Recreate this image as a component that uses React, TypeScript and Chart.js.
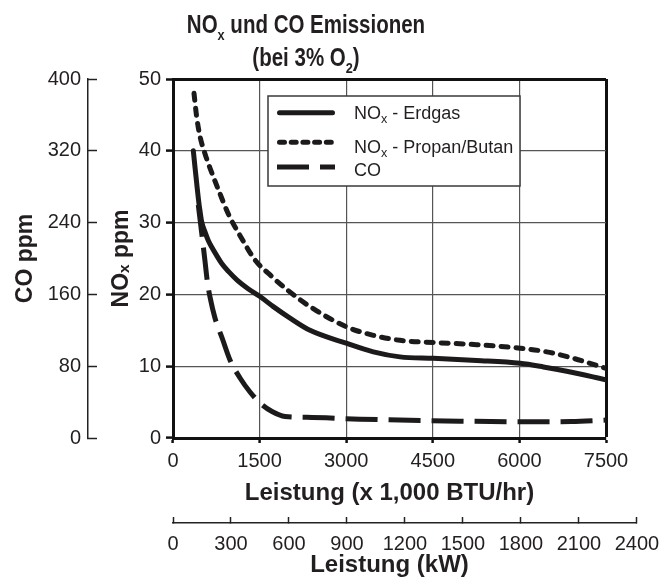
import React, { useEffect, useRef } from 'react';
import { Chart, registerables } from 'chart.js';

Chart.register(...registerables);

// ---- text ----
const TITLE_LINES = ['NOₓ und CO Emissionen', '(bei 3% O₂)'];
const X_TITLE = 'Leistung (x 1,000 BTU/hr)';
const X2_TITLE = 'Leistung (kW)';
const Y_TITLE = 'NOₓ ppm';
const Y2_TITLE = 'CO ppm';
const SERIES_LABELS = ['NOₓ - Erdgas', 'NOₓ - Propan/Butan', 'CO'];

// ---- ticks ----
const X_TICKS = [0, 1500, 3000, 4500, 6000, 7500];
const X2_TICKS = [0, 300, 600, 900, 1200, 1500, 1800, 2100, 2400];
const Y_TICKS = [0, 10, 20, 30, 40, 50];
const Y2_TICKS = [0, 80, 160, 240, 320, 400];
// kW value that the drawing shows under the right edge (7500) of the plot
const KW_AT_X_MAX = 2240;

// ---- series (x in 1,000 BTU/hr) ----
const ERDGAS_X = [352, 381, 410, 440, 468, 497, 554, 611, 670, 750, 844, 960, 1110, 1300, 1507, 1738, 2027, 2373, 3000, 3470, 3932, 4509, 5260, 6011, 6415, 6819, 7500];
const ERDGAS_Y = [40.0, 37.7, 35.5, 33.3, 31.6, 30.1, 28.7, 27.5, 26.6, 25.5, 24.3, 23.2, 22.0, 20.8, 19.7, 18.3, 16.7, 15.0, 13.2, 12.0, 11.3, 11.1, 10.8, 10.4, 9.9, 9.3, 8.1];

const PROPAN_X = [364, 410, 468, 554, 641, 800, 970, 1175, 1420, 1710, 2000, 2373, 3000, 3470, 3932, 4509, 5260, 6011, 6473, 6935, 7500];
const PROPAN_Y = [48.0, 44.7, 42.0, 39.6, 37.6, 34.3, 31.0, 28.0, 24.8, 22.5, 20.5, 18.3, 15.5, 14.3, 13.6, 13.3, 13.0, 12.5, 12.0, 11.1, 9.7];

const CO_X = [438, 497, 554, 598, 641, 727, 857, 987, 1161, 1334, 1507, 1715, 1940, 2316, 3239, 4971, 6126, 6900, 7500];
const CO_Y = [259.6, 228.4, 197.2, 172.7, 157.1, 133.7, 110.3, 86.9, 66.9, 51.3, 39.0, 29.5, 24.0, 23.1, 21.0, 18.8, 18.0, 18.3, 20.0];

const FONT = "'Liberation Sans', Arial, Helvetica, sans-serif";
const INK = '#231f20';

const pts = (xs: number[], ys: number[]) => xs.map((x, i) => ({ x, y: ys[i] }));
const fmt = (v: any) => String(v);

const SUBS: Record<string, string> = { 'ₓ': 'x', '₂': '2' };

type Seg = { t: string; sub: boolean };
function splitRich(text: string): Seg[] {
  const out: Seg[] = [];
  for (const ch of text) {
    const sub = !!SUBS[ch];
    const c = sub ? SUBS[ch] : ch;
    const last = out[out.length - 1];
    if (last && last.sub === sub) last.t += c;
    else out.push({ t: c, sub });
  }
  return out;
}

// draws text with real subscripts; align 'left' | 'center'
function drawRich(
  ctx: CanvasRenderingContext2D, text: string, x: number, y: number, size: number,
  opts: { weight?: string; align?: 'left' | 'center'; baseline?: CanvasTextBaseline; subScale?: number; subDrop?: number } = {}
) {
  const weight = opts.weight || 'normal';
  const subScale = opts.subScale ?? 0.7;
  const subDrop = opts.subDrop ?? 0.32;
  const segs = splitRich(text);
  const fontFor = (s: Seg) => `${weight} ${s.sub ? size * subScale : size}px ${FONT}`;
  let total = 0;
  for (const s of segs) { ctx.font = fontFor(s); total += ctx.measureText(s.t).width; }
  let cx = opts.align === 'center' ? x - total / 2 : x;
  ctx.textAlign = 'left';
  ctx.textBaseline = opts.baseline || 'middle';
  for (const s of segs) {
    ctx.font = fontFor(s);
    ctx.fillText(s.t, cx, s.sub ? y + size * subDrop : y);
    cx += ctx.measureText(s.t).width;
  }
}

const condensedTitle = {
  id: 'condensedTitle',
  afterDraw(chart: any) {
    const { ctx } = chart;
    const cx = 306, baselines = [33, 66];
    ctx.save();
    ctx.fillStyle = INK;
    TITLE_LINES.forEach((line, i) => {
      ctx.save();
      ctx.translate(cx, baselines[i]);
      ctx.scale(0.82, 1);
      drawRich(ctx, line, 0, 0, 25, { weight: 'bold', align: 'center', baseline: 'alphabetic', subScale: 0.62, subDrop: 0.26 });
      ctx.restore();
    });
    ctx.restore();
  },
};

const insideLegend = {
  id: 'insideLegend',
  afterDatasetsDraw(chart: any) {
    const { ctx, chartArea: ca } = chart;
    const bx = ca.left + 95, by = ca.top + 17, bw = 252, bh = 90;
    const rows = [{ line: 16.7, text: 18 }, { line: 46.3, text: 52 }, { line: 71, text: 75 }];
    ctx.save();
    ctx.fillStyle = '#ffffff';
    ctx.fillRect(bx, by, bw, bh);
    ctx.strokeStyle = '#3a3a3a';
    ctx.lineWidth = 1.5;
    ctx.setLineDash([]);
    ctx.strokeRect(bx, by, bw, bh);
    chart.data.datasets.forEach((ds: any, i: number) => {
      const r = rows[i];
      const cap = ds.borderCapStyle || 'butt';
      const inset = cap === 'round' ? ds.borderWidth / 2 : 0;
      ctx.beginPath();
      ctx.setLineDash(ds.legendDash || ds.borderDash || []);
      ctx.lineCap = cap;
      ctx.lineWidth = ds.borderWidth;
      ctx.strokeStyle = ds.borderColor;
      ctx.moveTo(bx + 9 + inset, by + r.line);
      ctx.lineTo(bx + 67 - inset, by + r.line);
      ctx.stroke();
      ctx.setLineDash([]);
      ctx.fillStyle = INK;
      drawRich(ctx, ds.label, bx + 86, by + r.text, 18);
    });
    ctx.restore();
  },
};

const widenKw = {
  id: 'widenKw',
  afterLayout(chart: any) {
    const s = chart.scales.x2;
    const ca = chart.chartArea;
    if (!s) return;
    s.left = ca.left;
    s.right = ca.left + (ca.right - ca.left) * X2_TICKS[X2_TICKS.length - 1] / KW_AT_X_MAX;
    s.width = s.right - s.left;
    s.configure();
  },
};

export default function App() {
  const ref = useRef<HTMLCanvasElement | null>(null);

  useEffect(() => {
    if (!ref.current) return;
    const tickFont = { size: 20, family: FONT };
    const titleFont = { size: 24, weight: 'bold' as const, family: FONT };
    const line = {
      borderColor: '#1c1a1b',
      borderWidth: 5,
      pointRadius: 0,
      fill: false,
      cubicInterpolationMode: 'monotone',
      xAxisID: 'x',
    };
    const chart = new Chart(ref.current, {
      type: 'line',
      data: {
        datasets: [
          { ...line, label: SERIES_LABELS[0], data: pts(ERDGAS_X, ERDGAS_Y), yAxisID: 'y', borderCapStyle: 'round' } as any,
          {
            ...line, label: SERIES_LABELS[1], data: pts(PROPAN_X, PROPAN_Y), yAxisID: 'y',
            borderDash: [7, 8], legendDash: [5, 6.7], borderCapStyle: 'round',
          } as any,
          { ...line, label: SERIES_LABELS[2], data: pts(CO_X, CO_Y), yAxisID: 'y2', borderDash: [32, 11], borderCapStyle: 'butt' } as any,
        ],
      },
      options: {
        responsive: false,
        animation: false,
        events: [],
        layout: { padding: { left: 0, right: 64, top: 79, bottom: 0 } },
        plugins: {
          legend: { display: false },
          tooltip: { enabled: false },
          title: { display: false },
        },
        scales: {
          x: {
            type: 'linear',
            position: 'bottom',
            weight: 0,
            min: 0,
            max: 7500,
            afterBuildTicks: (s: any) => { s.ticks = X_TICKS.map((value) => ({ value })); },
            afterFit: (s: any) => { s.height = 85; },
            grid: {
              color: (c: any) => (c.tick && c.tick.value === 7500 ? '#111' : '#555'),
              lineWidth: (c: any) => (c.tick && c.tick.value === 7500 ? 3 : 1.2),
              tickLength: 5,
              tickColor: '#111',
              tickWidth: 2.5,
            },
            border: { display: true, color: '#111', width: 3 },
            ticks: { font: tickFont, color: INK, padding: 6.5, maxRotation: 0, minRotation: 0, autoSkip: false, callback: fmt },
            title: { display: true, text: X_TITLE, color: INK, font: titleFont, padding: { top: 0, bottom: 15 } },
          },
          x2: {
            type: 'linear',
            position: 'bottom',
            weight: 1,
            min: 0,
            max: 2400,
            afterBuildTicks: (s: any) => { s.ticks = X2_TICKS.map((value) => ({ value })); },
            afterFit: (s: any) => { s.height = 30; },
            grid: { drawOnChartArea: false, tickLength: -6, tickColor: '#222', tickWidth: 1.5 },
            border: { display: true, color: '#222', width: 1.5 },
            ticks: { font: tickFont, color: INK, padding: 15, maxRotation: 0, minRotation: 0, autoSkip: false, callback: fmt },
            title: { display: false },
          },
          x3: {
            type: 'linear',
            position: 'bottom',
            weight: 2,
            min: 0,
            max: 1,
            afterFit: (s: any) => { s.height = 27; },
            grid: { display: false, drawTicks: false },
            border: { display: false },
            ticks: { display: false },
            title: { display: true, text: X2_TITLE, color: INK, font: titleFont, padding: { top: 0, bottom: 0 } },
          },
          y: {
            type: 'linear',
            position: 'left',
            weight: 0,
            min: 0,
            max: 50,
            afterBuildTicks: (s: any) => { s.ticks = Y_TICKS.map((value) => ({ value })); },
            afterFit: (s: any) => { s.width = 85; },
            grid: {
              color: (c: any) => (c.tick && c.tick.value === 50 ? '#111' : '#555'),
              lineWidth: (c: any) => (c.tick && c.tick.value === 50 ? 3 : 1.2),
              tickLength: 7,
              tickColor: '#111',
              tickWidth: 2.5,
            },
            border: { display: true, color: '#111', width: 3 },
            ticks: { font: tickFont, color: INK, padding: 5, autoSkip: false, callback: fmt },
            title: { display: true, text: Y_TITLE, color: INK, font: { size: 23, weight: 'bold', family: FONT }, padding: { top: 19.5, bottom: 0 } },
          },
          y2: {
            type: 'linear',
            position: 'left',
            weight: 1,
            min: 0,
            max: 400,
            afterBuildTicks: (s: any) => { s.ticks = Y2_TICKS.map((value) => ({ value })); },
            afterFit: (s: any) => { s.width = 88; },
            grid: { drawOnChartArea: false, tickLength: -9, tickColor: '#222', tickWidth: 1.5 },
            border: { display: true, color: '#222', width: 1.5 },
            ticks: { font: tickFont, color: INK, padding: 16, autoSkip: false, callback: fmt },
            title: { display: true, text: Y2_TITLE, color: INK, font: { size: 23, weight: 'bold', family: FONT }, padding: { top: 11.5, bottom: 0 } },
          },
        },
      } as any,
      plugins: [widenKw, insideLegend, condensedTitle],
    });
    return () => chart.destroy();
  }, []);

  return (
    <div style={{ position: 'absolute', left: 0, top: 0, width: 670, height: 580, background: '#ffffff' }}>
      <canvas ref={ref} width={670} height={580} style={{ width: 670, height: 580, display: 'block' }} />
    </div>
  );
}
